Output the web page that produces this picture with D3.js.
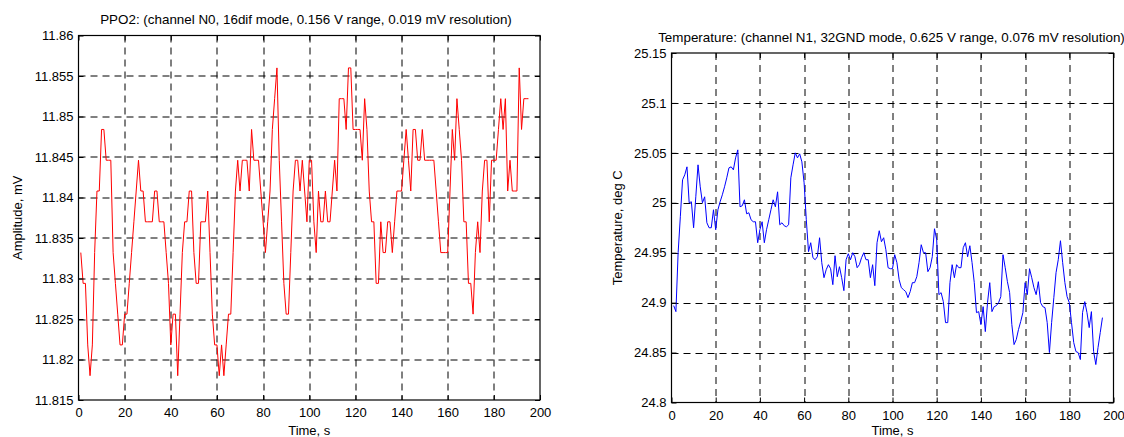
<!DOCTYPE html>
<html>
<head>
  <meta charset="utf-8">
  <title>PPO2 and Temperature</title>
  <script src="https://cdnjs.cloudflare.com/ajax/libs/d3/7.8.5/d3.min.js"></script>
  <style>
    body { margin: 0; background: #fff; }
    text { font-family: "Liberation Sans", Arial, Helvetica, sans-serif; }
  </style>
</head>
<body>
<div id="chart"></div>
<script type="text/javascript">

// sample times (one reading per second)
var sampleTimes = d3.range(1, 196);

var ppo2Values = [
  11.8332, 11.8294, 11.8294, 11.8218, 11.818, 11.8218, 11.8332, 11.8408, 11.8408, 11.8484,
  11.8484, 11.8446, 11.8446, 11.8446, 11.8332, 11.8294, 11.8256, 11.8218, 11.8218, 11.8256,
  11.8256, 11.8294, 11.8332, 11.837, 11.8408, 11.8446, 11.8408, 11.8408, 11.837, 11.837,
  11.837, 11.837, 11.8408, 11.8408, 11.837, 11.837, 11.837, 11.8332, 11.8294, 11.8218,
  11.8256, 11.8256, 11.818, 11.8256, 11.8332, 11.837, 11.837, 11.8408, 11.8408, 11.8332,
  11.8294, 11.8294, 11.837, 11.837, 11.837, 11.8408, 11.8332, 11.8256, 11.8218, 11.8218,
  11.818, 11.8218, 11.818, 11.8218, 11.8256, 11.8256, 11.8332, 11.8408, 11.8446, 11.8408,
  11.8446, 11.8446, 11.8446, 11.8408, 11.8484, 11.8446, 11.8446, 11.8446, 11.8408, 11.837,
  11.8332, 11.837, 11.8408, 11.8484, 11.8522, 11.856, 11.8446, 11.837, 11.8294, 11.8256,
  11.8256, 11.8332, 11.8408, 11.8446, 11.8446, 11.8408, 11.8446, 11.8408, 11.837, 11.8446,
  11.8446, 11.837, 11.8332, 11.8408, 11.837, 11.837, 11.8408, 11.837, 11.837, 11.8408,
  11.8446, 11.8408, 11.8522, 11.8522, 11.8522, 11.8484, 11.856, 11.856, 11.8484, 11.8484,
  11.8484, 11.8484, 11.8446, 11.8522, 11.8484, 11.8408, 11.837, 11.837, 11.8294, 11.8294,
  11.837, 11.8332, 11.8332, 11.837, 11.837, 11.8332, 11.837, 11.8408, 11.8408, 11.8408,
  11.8446, 11.8484, 11.8446, 11.8408, 11.8484, 11.8484, 11.8446, 11.8446, 11.8484, 11.8446,
  11.8446, 11.8446, 11.8446, 11.8446, 11.8408, 11.837, 11.8332, 11.8332, 11.8332, 11.8332,
  11.8408, 11.8484, 11.8446, 11.8522, 11.8484, 11.8446, 11.837, 11.837, 11.8294, 11.8294,
  11.8256, 11.8332, 11.837, 11.8332, 11.8408, 11.8446, 11.8446, 11.837, 11.8446, 11.8446,
  11.8446, 11.8484, 11.8522, 11.8484, 11.8522, 11.8408, 11.8446, 11.8408, 11.8408, 11.8408,
  11.856, 11.8484, 11.8522, 11.8522, 11.8522
];

var tempValues = [
  24.897, 24.891, 24.95, 24.986, 25.023, 25.028, 25.036, 25.0, 25.001, 24.975,
  25.006, 25.038, 25.016, 25.0, 25.006, 24.98, 24.975, 24.975, 24.993, 24.973,
  24.993, 25.001, 25.008, 25.016, 25.025, 25.035, 25.036, 25.033, 25.045, 25.053,
  24.996, 24.997, 25.003, 24.989, 24.99, 24.983, 24.981, 24.981, 24.96, 24.973,
  24.981, 24.96, 24.973, 24.983, 24.993, 25.003, 24.996, 25.011, 24.978, 24.98,
  24.977, 24.976, 24.978, 25.025, 25.038, 25.05, 25.045, 25.049, 25.041, 25.02,
  24.983, 24.951, 24.96, 24.945, 24.943, 24.946, 24.965, 24.94, 24.925, 24.933,
  24.938, 24.934, 24.918, 24.947, 24.926, 24.936, 24.925, 24.912, 24.943, 24.949,
  24.943, 24.95, 24.946, 24.935, 24.938, 24.945, 24.95, 24.943, 24.943, 24.925,
  24.938, 24.917, 24.96, 24.972, 24.961, 24.965, 24.953, 24.935, 24.934, 24.934,
  24.948, 24.94, 24.923, 24.915, 24.913, 24.911, 24.905, 24.911, 24.92, 24.92,
  24.926, 24.94, 24.958, 24.95, 24.95, 24.931, 24.935, 24.946, 24.974, 24.963,
  24.908, 24.91, 24.901, 24.88, 24.88, 24.92, 24.938, 24.925, 24.938, 24.935,
  24.935, 24.955, 24.96, 24.946, 24.957, 24.94, 24.92, 24.89, 24.891, 24.878,
  24.896, 24.871, 24.9, 24.92, 24.891, 24.896, 24.897, 24.9, 24.906, 24.948,
  24.935, 24.921, 24.91, 24.878, 24.858, 24.863, 24.873, 24.881, 24.89, 24.92,
  24.908, 24.934, 24.925, 24.915, 24.908, 24.921, 24.9, 24.896, 24.895, 24.88,
  24.85, 24.88, 24.905, 24.93, 24.943, 24.962, 24.94, 24.92, 24.906, 24.9,
  24.88, 24.86, 24.851, 24.85, 24.843, 24.89, 24.901, 24.89, 24.875, 24.891,
  24.851, 24.838, 24.855, 24.87, 24.885
];

var timeTicks = [0, 20, 40, 60, 80, 100, 120, 140, 160, 180, 200];
var ppo2Ticks = [11.815, 11.82, 11.825, 11.83, 11.835, 11.84, 11.845, 11.85, 11.855, 11.86];
var tempTicks = [24.8, 24.85, 24.9, 24.95, 25, 25.05, 25.1, 25.15];

var svg = d3.select('#chart').append('svg')
    .attr('width', 1124)
    .attr('height', 437)
    .style('display', 'block');

svg.append('rect').attr('width', 1124).attr('height', 437).attr('fill', '#fff');

function drawPanel(p) {
  var w = p.right - p.left, h = p.bottom - p.top;
  var g = svg.append('g').attr('transform', 'translate(' + p.left + ',' + p.top + ')');

  var x = d3.scaleLinear().domain([0, 200]).range([0, w]);
  var y = d3.scaleLinear().domain(d3.extent(p.yTicks)).range([h, 0]);

  // dashed grid
  g.append('g').selectAll('line.vg')
    .data(timeTicks.slice(1, -1)).enter().append('line')
    .attr('x1', function(d) { return Math.round(x(d)) + 0.5; })
    .attr('x2', function(d) { return Math.round(x(d)) + 0.5; })
    .attr('y1', 0).attr('y2', h)
    .attr('stroke', '#000').attr('stroke-width', 1)
    .attr('stroke-dasharray', '7,5');
  g.append('g').selectAll('line.hg')
    .data(p.yTicks.slice(1, -1)).enter().append('line')
    .attr('y1', function(d) { return Math.round(y(d)) + 0.5; })
    .attr('y2', function(d) { return Math.round(y(d)) + 0.5; })
    .attr('x1', 0).attr('x2', w)
    .attr('stroke', '#000').attr('stroke-width', 1)
    .attr('stroke-dasharray', '7,5');

  // data line
  var line = d3.line()
    .x(function(d, i) { return x(sampleTimes[i]); })
    .y(function(d) { return y(d); });
  g.append('path')
    .datum(p.values)
    .attr('d', line)
    .attr('fill', 'none')
    .attr('stroke', p.color)
    .attr('stroke-width', 1);

  // axes with inward ticks
  var fmt = function(d) { return String(d); };
  g.append('g').attr('transform', 'translate(0,' + h + ')')
    .call(d3.axisBottom(x).tickValues(timeTicks).tickSize(-5).tickPadding(8).tickFormat(fmt));
  g.append('g')
    .call(d3.axisTop(x).tickValues(timeTicks).tickSize(-5).tickFormat(''));
  g.append('g')
    .call(d3.axisLeft(y).tickValues(p.yTicks).tickSize(-5).tickPadding(5).tickFormat(fmt));
  g.append('g').attr('transform', 'translate(' + w + ',0)')
    .call(d3.axisRight(y).tickValues(p.yTicks).tickSize(-5).tickFormat(''));

  g.selectAll('.domain').remove();
  g.selectAll('.tick line').attr('stroke', '#000');
  g.selectAll('.tick text').attr('font-size', '13px').attr('fill', '#000')
    .style('font-family', '"Liberation Sans", Arial, sans-serif');

  // box
  g.append('rect')
    .attr('width', w).attr('height', h)
    .attr('fill', 'none').attr('stroke', '#000').attr('stroke-width', 1.2);

  // title and labels
  svg.append('text')
    .attr('x', p.titleX).attr('y', p.titleY)
    .attr('text-anchor', 'middle').attr('font-size', '13.4px')
    .text(p.title);
  svg.append('text')
    .attr('x', (p.left + p.right) / 2).attr('y', 435)
    .attr('text-anchor', 'middle').attr('font-size', '13px')
    .text('Time, s');
  svg.append('text')
    .attr('transform', 'translate(' + p.yLabelX + ',' + (p.top + p.bottom) / 2 + ') rotate(-90)')
    .attr('text-anchor', 'middle').attr('font-size', '13px')
    .text(p.yLabel);
}

drawPanel({
  left: 78.5, right: 540, top: 35.5, bottom: 400,
  yTicks: ppo2Ticks, values: ppo2Values, color: '#ff0000',
  title: 'PPO2: (channel N0, 16dif mode, 0.156 V range, 0.019 mV resolution)',
  titleX: 306, titleY: 24, yLabel: 'Amplitude, mV', yLabelX: 21.5
});

drawPanel({
  left: 671.5, right: 1113.5, top: 53, bottom: 402.5,
  yTicks: tempTicks, values: tempValues, color: '#0000ff',
  title: 'Temperature: (channel N1, 32GND mode, 0.625 V range, 0.076 mV resolution)',
  titleX: 891.5, titleY: 42, yLabel: 'Temperature, deg C', yLabelX: 621.5
});

</script>
</body>
</html>
